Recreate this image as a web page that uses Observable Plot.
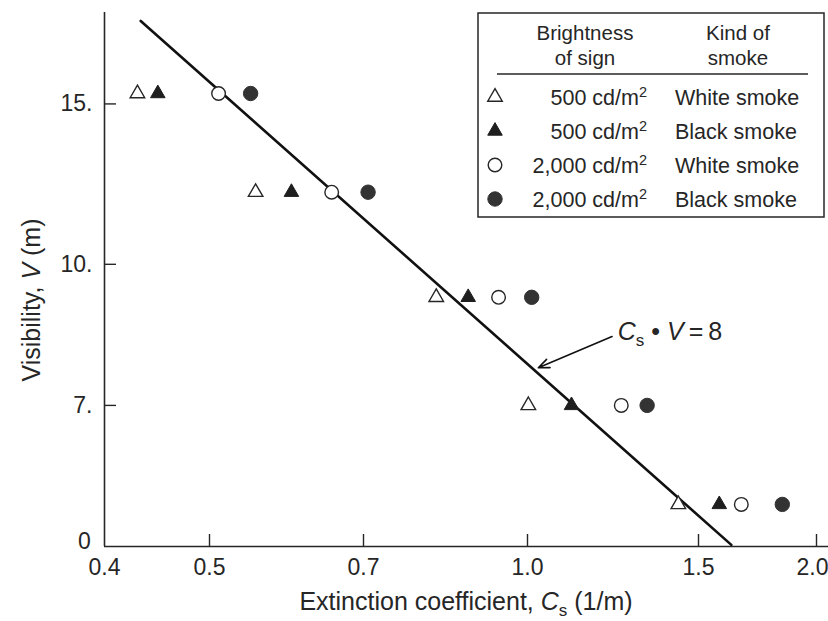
<!DOCTYPE html>
<html><head><meta charset="utf-8">
<script src="https://cdn.jsdelivr.net/npm/d3@7"></script>
<script src="https://cdn.jsdelivr.net/npm/@observablehq/plot@0.6"></script>
<style>
body{margin:0;background:#fff;}
#chart svg{display:block;}
</style>
</head><body><div id="chart"></div>
<script>
// ---- data ----
const visibility = [15.4, 12.0, 9.2, 7.0, 5.45];
const cs500White = [0.429, 0.553, 0.820, 1.002, 1.43];
const cs500Black = [0.448, 0.598, 0.879, 1.11, 1.578];
const cs2000White = [0.51, 0.653, 0.939, 1.249, 1.665];
const cs2000Black = [0.547, 0.707, 1.01, 1.328, 1.84];
const seriesBrightness = ["500 cd/m", "500 cd/m", "2,000 cd/m", "2,000 cd/m"];
const seriesSmoke = ["White smoke", "Black smoke", "White smoke", "Black smoke"];
const xTickLabels = [0.4, 0.5, 0.7, 1.0, 1.5];
const xTickLabelEdge = [2.0];
const xTickMarks = [0.5, 0.7, 1.0, 1.5, 2.0];
const yTickLabels = [7, 10, 15];
const lineCs = [0.432, 1.625];
const lineV = [18.5, 4.92];
const annotationLabel = {cs: 1.24, v: 8.25};
const annotationArrow = [{x1: 1.222, y1: 8.33, x2: 1.026, y2: 7.7}];

const yMin = 4.9, yMax = 18.9;
const ink = "#262626";

const seriesCs = [cs500White, cs500Black, cs2000White, cs2000Black];
const points = seriesCs.flatMap((arr, s) => arr.map((cs, i) => ({s, cs, v: visibility[i]})));
const lineData = lineCs.map((cs, i) => ({cs, v: lineV[i]}));

const styles = [
  {symbol: "triangle", r: 5.4, fill: "white", stroke: ink, strokeWidth: 1.4},
  {symbol: "triangle", r: 5.4, fill: "#1e1e1e", stroke: "#1e1e1e", strokeWidth: 1},
  {symbol: "circle", r: 6.8, fill: "white", stroke: ink, strokeWidth: 1.4},
  {symbol: "circle", r: 7.2, fill: "#333", stroke: "#333", strokeWidth: 1}
];

const axisTextOpts = {anchor: "bottom", tickSize: 0, tickPadding: 12, tickFormat: d3.format(".1f"), fontSize: 23, fill: ink, label: null};

const chart = Plot.plot({
  width: 828, height: 621,
  marginLeft: 104, marginRight: 0, marginTop: 12, marginBottom: 75,
  style: {fontFamily: "'Liberation Sans', Arial, sans-serif", color: ink, background: "transparent"},
  x: {type: "log", domain: [0.4, 0.5, 0.7, 1.0, 1.5, 2.0, 2.06], range: [104, 209, 363, 527, 698, 816, 828], axis: null, label: null},
  y: {type: "log", domain: [yMin, yMax], axis: null, label: null},
  marks: [
    Plot.ruleY([yMin], {stroke: ink, strokeWidth: 1.6}),
    Plot.ruleX([0.4], {stroke: ink, strokeWidth: 1.6}),
    Plot.ruleX(xTickMarks, {x: d => d, y1: yMin, y2: yMin, insetTop: -12, stroke: ink, strokeWidth: 1.4}),
    Plot.ruleY(yTickLabels, {y: d => d, x1: 0.4, x2: 0.4, insetRight: -12, stroke: ink, strokeWidth: 1.4}),
    Plot.axisX(xTickLabels, axisTextOpts),
    Plot.axisX(xTickLabelEdge, {...axisTextOpts, dx: -4}),
    Plot.axisY(yTickLabels, {anchor: "left", tickSize: 0, tickPadding: 12, tickFormat: d => d + ".", fontSize: 23, fill: ink, label: null}),
    Plot.text(["0"], {x: 0.4, y: yMin, dx: -20, dy: -5, text: d => d, fontSize: 23, fill: ink}),
    Plot.line(lineData, {x: "cs", y: "v", stroke: "#111", strokeWidth: 2.6}),
    Plot.arrow(annotationArrow, {x1: "x1", y1: "y1", x2: "x2", y2: "y2", stroke: "#111", strokeWidth: 1.6, headLength: 11, headAngle: 45}),
    ...styles.map((st, s) => Plot.dot(points.filter(p => p.s === s), {x: "cs", y: "v", ...st}))
  ]
});
document.getElementById("chart").append(chart);

const xs = chart.scale("x"), ys = chart.scale("y");
const svg = d3.select(chart);
const font = "'Liberation Sans', Arial, sans-serif";

// x axis title
const xt = svg.append("text").attr("x", 466).attr("y", 610).attr("text-anchor", "middle")
  .attr("font-size", 25).attr("font-family", font).attr("fill", ink);
xt.append("tspan").text("Extinction coefficient, ");
xt.append("tspan").attr("font-style", "italic").text("C");
xt.append("tspan").attr("font-size", 17).attr("dy", 6).text("s");
xt.append("tspan").attr("dy", -6).text(" (1/m)");

// y axis title
const yt = svg.append("text").attr("transform", "translate(40,300) rotate(-90)").attr("text-anchor", "middle")
  .attr("font-size", 25).attr("font-family", font).attr("fill", ink);
yt.append("tspan").text("Visibility, ");
yt.append("tspan").attr("font-style", "italic").text("V");
yt.append("tspan").text(" (m)");

// annotation
const at = svg.append("text").attr("x", xs.apply(annotationLabel.cs)).attr("y", ys.apply(annotationLabel.v))
  .attr("text-anchor", "start").attr("font-size", 25).attr("font-family", font).attr("fill", ink);
at.append("tspan").attr("font-style", "italic").text("C");
at.append("tspan").attr("font-size", 17).attr("dy", 6).text("s");
at.append("tspan").attr("dy", -6).text(" \u2022 ");
at.append("tspan").attr("font-style", "italic").text("V");
at.append("tspan").text("\u2009=\u20098");

// legend
const lg = svg.append("g").attr("font-family", font).attr("fill", ink);
lg.append("rect").attr("x", 478).attr("y", 13).attr("width", 346).attr("height", 204)
  .attr("fill", "white").attr("stroke", ink).attr("stroke-width", 1.5);
[["Brightness", 585, 40], ["of sign", 585, 65], ["Kind of", 738, 40], ["smoke", 738, 65]].forEach(([t, x, y]) => {
  lg.append("text").attr("x", x).attr("y", y).attr("text-anchor", "middle").attr("font-size", 20.5).text(t);
});
lg.append("line").attr("x1", 497).attr("x2", 808).attr("y1", 74).attr("y2", 74).attr("stroke", ink).attr("stroke-width", 1.5);
const rowY = [97, 131, 165, 199];
styles.forEach((st, i) => {
  const type = st.symbol === "triangle" ? d3.symbolTriangle : d3.symbolCircle;
  lg.append("path").attr("d", d3.symbol(type, Math.PI * st.r * st.r)())
    .attr("transform", `translate(495,${rowY[i]})`)
    .attr("fill", st.fill).attr("stroke", st.stroke).attr("stroke-width", st.strokeWidth);
  const b = lg.append("text").attr("x", 647).attr("y", rowY[i] + 8).attr("text-anchor", "end").attr("font-size", 21.5);
  b.append("tspan").text(seriesBrightness[i]);
  b.append("tspan").attr("font-size", 14.5).attr("dy", -8).text("2");
  lg.append("text").attr("x", 675).attr("y", rowY[i] + 8).attr("text-anchor", "start").attr("font-size", 21.5).text(seriesSmoke[i]);
});
</script>
</body></html>
